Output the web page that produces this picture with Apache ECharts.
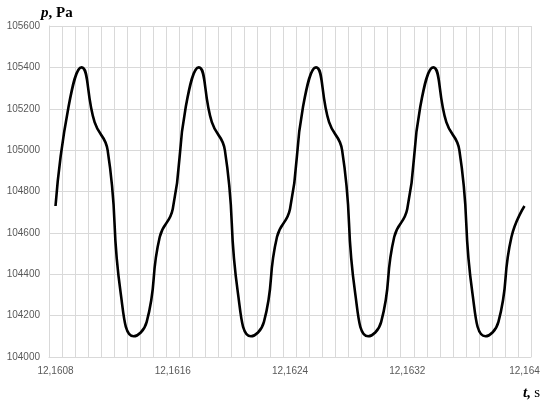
<!DOCTYPE html>
<html>
<head>
<meta charset="utf-8">
<script src="https://cdn.jsdelivr.net/npm/echarts@6/dist/echarts.min.js"></script>
<style>html,body{margin:0;padding:0;background:#fff}#c{width:551px;height:413px}</style>
</head>
<body>
<div id="c"></div>
<script>
const timeCategories = [
  '12.16080','12.16089','12.16098','12.16107','12.16116','12.16124','12.16133','12.16142','12.16151',
  '12.16160','12.16169','12.16178','12.16187','12.16196','12.16204','12.16213','12.16222','12.16231',
  '12.16240','12.16249','12.16258','12.16267','12.16276','12.16284','12.16293','12.16302','12.16311',
  '12.16320','12.16329','12.16338','12.16347','12.16356','12.16364','12.16373','12.16382','12.16391',
  '12.16400'
];
const pressure = [
  104730, 105210, 105400, 105135, 105000, 104310, 104100, 104170, 104580,
  104715, 105210, 105400, 105135, 105000, 104310, 104100, 104170, 104580,
  104715, 105210, 105400, 105135, 105000, 104310, 104100, 104170, 104580,
  104715, 105210, 105400, 105135, 105000, 104310, 104100, 104170, 104580,
  104730
];
const yTicks = { min: 104000, max: 105600, interval: 200 };

const chart = echarts.init(document.getElementById('c'), null, { renderer: 'canvas' });
const grid = '#d9d9d9';
chart.setOption({
  animation: false,
  grid: { left: 49, right: 20, top: 26, bottom: 56 },
  xAxis: {
    type: 'category',
    data: timeCategories,
    boundaryGap: true,
    axisTick: { show: false },
    axisLine: { show: true, lineStyle: { color: grid, width: 1 } },
    splitLine: { show: true, interval: 0, lineStyle: { color: grid, width: 1 } },
    axisLabel: {
      interval: 8,
      color: '#595959',
      fontFamily: 'Liberation Sans',
      fontSize: 10,
      margin: 9,
      formatter: v => parseFloat(v).toFixed(4).replace(/0+$/, '').replace('.', ',')
    }
  },
  yAxis: {
    type: 'value',
    min: yTicks.min, max: yTicks.max, interval: yTicks.interval,
    axisLine: { show: true, lineStyle: { color: grid, width: 1 } },
    axisTick: { show: false },
    splitLine: { show: true, lineStyle: { color: grid, width: 1 } },
    axisLabel: {
      color: '#595959', fontFamily: 'Liberation Sans', fontSize: 10, margin: 9,
      formatter: v => String(v)
    }
  },
  series: [{
    type: 'line',
    data: pressure,
    smooth: 0.5,
    symbol: 'none',
    lineStyle: { color: '#000', width: 2.6 }
  }],
  graphic: [
    {
      type: 'text', left: 41, top: 6,
      style: {
        text: '{i|p}{b|, Pa}',
        rich: {
          i: { fontFamily: 'Liberation Serif', fontStyle: 'italic', fontWeight: 'bold', fontSize: 15, fill: '#000' },
          b: { fontFamily: 'Liberation Serif', fontWeight: 'bold', fontSize: 15, fill: '#000' }
        }
      }
    },
    {
      type: 'text', left: 523, top: 386,
      style: {
        text: '{i|t,} {n|s}',
        rich: {
          i: { fontFamily: 'Liberation Serif', fontStyle: 'italic', fontWeight: 'bold', fontSize: 15, fill: '#000' },
          n: { fontFamily: 'Liberation Serif', fontSize: 15, fill: '#000' }
        }
      }
    }
  ]
});
</script>
</body>
</html>
